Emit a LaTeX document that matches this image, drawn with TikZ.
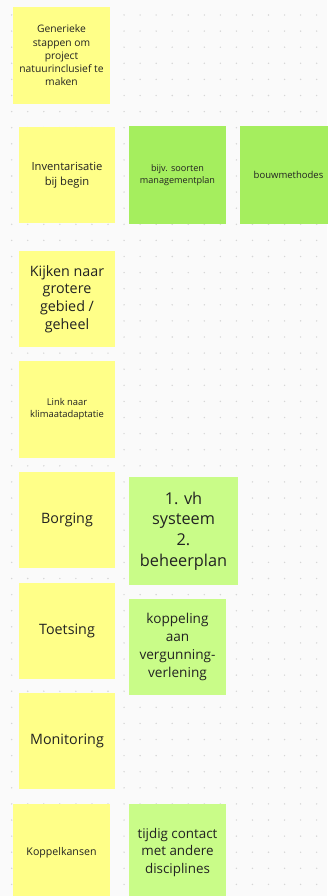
\documentclass[tikz,border=0pt]{standalone}
\usepackage{fontspec}
\setmainfont{Open Sans}
\definecolor{bg}{HTML}{FAFAFA}
\definecolor{griddot}{HTML}{D6D6D6}
\definecolor{stickyyellow}{HTML}{FFFF88}
\definecolor{stickygreen}{HTML}{A5EE5E}
\definecolor{stickylight}{HTML}{C9FC88}
\definecolor{txt}{HTML}{222222}
\tikzset{
  sticky/.style={inner sep=0pt, minimum width=97pt, minimum height=97pt, align=center, text=txt},
  yel/.style={sticky, fill=stickyyellow},
  grn/.style={sticky, fill=stickygreen},
  lgrn/.style={sticky, fill=stickylight},
  big/.style={font=\fontsize{14.3}{17.7}\selectfont},
  mid/.style={font=\fontsize{13.6}{17.7}\selectfont},
  small/.style={font=\fontsize{9.4}{12}\selectfont},
}
\begin{document}
\begin{tikzpicture}[x=1pt,y=-1pt]
\useasboundingbox (0,0) rectangle (327,896);
\fill[bg] (0,0) rectangle (327,896);
% dot grid
\foreach \i in {0,...,20}{
  \foreach \j in {0,...,55}{
    \fill[griddot] ({11.7+16.05*\i},{15+16.1*\j}) circle (0.8);
  }
}
% sticky notes
\node[yel, font=\fontsize{10.3}{13.3}\selectfont] (gen) at (61.5,55.5) {Generieke\\stappen om\\project\\natuurinclusief te\\maken};
\node[yel, minimum width=96pt, minimum height=96pt, font=\fontsize{11.2}{15}\selectfont] (inv) at (67,175) {Inventarisatie\\bij begin};
\node[grn, font=\fontsize{9.1}{12}\selectfont] (bijv) at (177.5,175) {bijv. soorten\\managementplan};
\node[grn, font=\fontsize{9.5}{12}\selectfont] (bouw) at (288.5,175) {bouwmethodes};
\node[yel, big, minimum width=96pt, minimum height=96pt] (kijk) at (67,299) {Kijken naar\\grotere\\gebied /\\geheel};
\node[yel, small, minimum width=96pt] (link) at (67,409.5) {Link naar\\klimaatadaptatie};
\node[yel, big, minimum width=96pt, minimum height=96pt] (borg) at (67,520) {Borging};
\node[lgrn, minimum width=109pt, minimum height=108pt, font=\fontsize{16.3}{20.7}\selectfont] (vh) at (183.5,531) {1. vh\\systeem\\2.\\beheerplan};
\node[yel, big, minimum width=96pt, minimum height=96pt] (toets) at (67,631) {Toetsing};
\node[lgrn, mid, minimum height=96pt] (kopp) at (177.5,647) {koppeling\\aan\\vergunning-\\verlening};
\node[yel, big, minimum width=96pt, minimum height=96pt] (mon) at (67,741) {Monitoring};
\node[yel, font=\fontsize{10.6}{13}\selectfont] (kans) at (61.5,852.5) {Koppelkansen};
\node[lgrn, font=\fontsize{13.4}{17.7}\selectfont] (tijd) at (177.5,852.5) {tijdig contact\\met andere\\disciplines};
\end{tikzpicture}
\end{document}
